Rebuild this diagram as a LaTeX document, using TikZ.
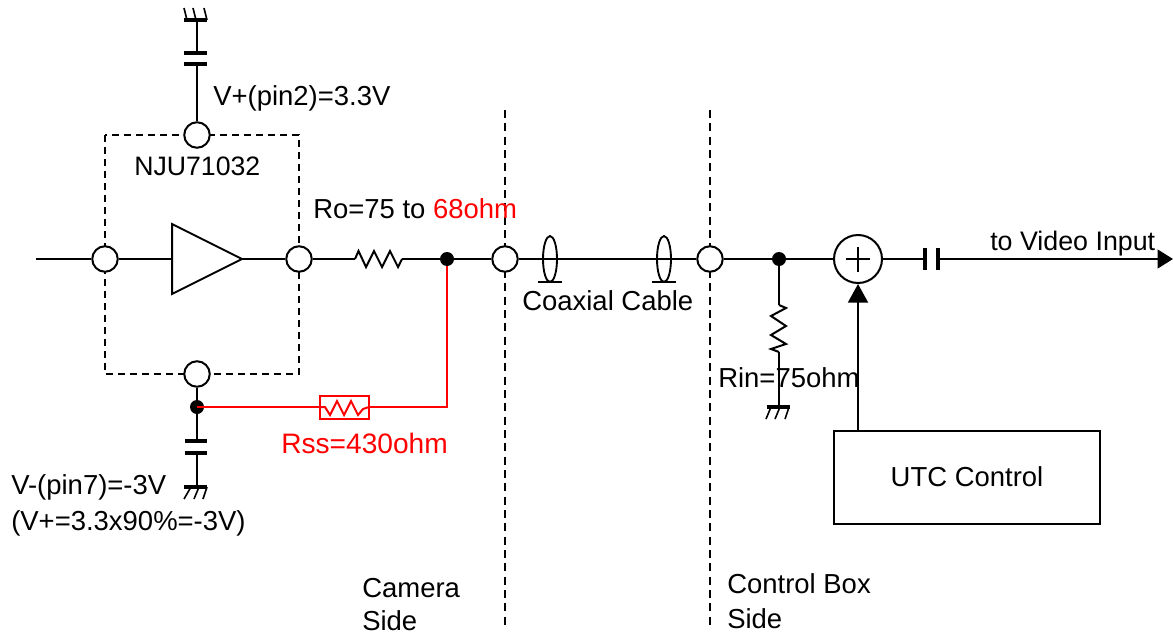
\documentclass[tikz,border=0pt]{standalone}
\usepackage{fontspec}
\setmainfont{Liberation Sans}
\usetikzlibrary{arrows.meta}
\tikzset{
  wire/.style={draw=black,line width=1.5pt},
  redwire/.style={draw=red,line width=1.5pt},
  port/.style={circle,draw=black,fill=white,line width=1.5pt,minimum size=25.5*0.75pt,inner sep=0pt},
  junction/.style={circle,fill=black,minimum size=14*0.75pt,inner sep=0pt},
  plate/.style={draw=black,line width=3pt},
  hatch/.style={draw=black,line width=1.2pt},
  bounds/.style={draw=black,dash pattern=on 5.5pt off 3.5pt,line width=1.4pt},
  sep/.style={draw=black,dash pattern=on 6pt off 4pt,line width=1.4pt},
  lab/.style={anchor=base west,inner sep=0pt,font=\fontsize{20.6pt}{24pt}\selectfont},
  coax/.style={draw=black,line width=1.4pt}
}
\begin{document}
\begin{tikzpicture}[x=0.75pt,y=-0.75pt]
\useasboundingbox (0,0) rectangle (1173,635);
% separators
\coordinate (s1a) at (505,110); \coordinate (s1b) at (505,627);
\coordinate (s2a) at (710,110); \coordinate (s2b) at (710,627);
\draw[sep] (s1a) -- (s1b);
\draw[sep] (s2a) -- (s2b);
% dashed amp boundary
\draw[bounds] (105,135) rectangle (299,374);
% key coordinates
\coordinate (in) at (36,259);
\coordinate (out) at (1173,259);
\coordinate (r1a) at (355,259); \coordinate (r1b) at (402,259);
\coordinate (gt) at (197,20);
\coordinate (c1a) at (197,53); \coordinate (c1b) at (197,64);
\coordinate (c2a) at (197,441); \coordinate (c2b) at (197,453);
\coordinate (gb) at (197,487);
\coordinate (rs1) at (320,407); \coordinate (rs2) at (369,407);
\coordinate (corner) at (447,407);
\coordinate (ra) at (779,305); \coordinate (rb) at (779,352);
\coordinate (gr) at (779,407);
\coordinate (c3a) at (925,259); \coordinate (c3b) at (939,259);
% nodes
\node[port] (p1) at (105,259) {};
\node[port] (p2) at (299,259) {};
\node[port] (pt) at (197,135) {};
\node[port] (pb) at (197,374) {};
\node[port] (p3) at (505,259) {};
\node[port] (p4) at (710,259) {};
\node[junction] (j1) at (447,259) {};
\node[junction] (j2) at (779,259) {};
\node[circle,draw=black,fill=white,line width=1.5pt,minimum size=48*0.75pt,inner sep=0pt] (sum) at (858,259) {};
\node[draw=black,line width=1.5pt,minimum width=266*0.75pt,minimum height=93*0.75pt,inner sep=0pt,font=\fontsize{20.6pt}{24pt}\selectfont] (utc) at (967,477) {UTC Control};
% plus in the summing node
\draw[line width=1.2pt] (846,259) -- (870,259) (858,247) -- (858,272);
% wires
\draw[wire] (in) -- (p1);
\draw[wire] (p1) -- (p2);
\draw[wire] (p2) -- (r1a);
\draw[wire] (r1a) -- (358.5,251) -- (366,267) -- (374,251) -- (382,267) -- (390,251) -- (398,267) -- (r1b);
\draw[wire] (r1b) -- (j1);
\draw[wire] (j1) -- (p3);
\draw[wire] (p3) -- (p4);
\draw[wire] (p4) -- (j2);
\draw[wire] (j2) -- (sum);
\draw[wire] (sum) -- (c3a);
\draw[wire,-{Triangle[length=11.5pt,width=14pt,sep=0pt]}] (c3b) -- (out);
% capacitor on the output
\draw[plate] (925,248) -- (925,270);
\draw[plate] (938,248) -- (938,270);
% amp triangle
\draw[wire,fill=white] (172,224) -- (172,294) -- (242,259) -- cycle;
% top capacitor and ground
\draw[wire] (pt) -- (c1b);
\draw[wire] (c1a) -- (gt);
\draw[plate] (184,53) -- (207,53);
\draw[plate] (184,64) -- (207,64);
\draw[plate] (184,20) -- (207,20);
\draw[hatch] (187,20) -- (184,8) (196,20) -- (193,8) (207,20) -- (204,8);
% bottom capacitor and ground
\draw[wire] (pb) -- (c2a);
\draw[wire] (c2b) -- (gb);
\draw[plate] (185,441) -- (207,441);
\draw[plate] (185,453) -- (207,453);
\draw[plate] (184,487) -- (207,487);
\draw[hatch] (191,487) -- (184,499) (199,487) -- (194,499) (207,487) -- (203,499);
% Rss branch
\node[junction] (j3) at (197,407) {};
\draw[redwire] (j3.center) -- (rs1);
\draw[redwire] (rs2) -- (corner) -- (j1);
\draw[redwire] (320,395.5) rectangle (369,418.5);
\draw[redwire] (rs1) -- ++(5,0) -- ++(5,8) -- ++(7,-14) -- ++(7,14) -- ++(7,-14) -- ++(7,14) -- ++(5,-6) -- (rs2);
% Rin branch
\draw[wire] (j2) -- (ra);
\draw[wire] (ra) -- (786,308) -- (771,316) -- (786,326) -- (771,335) -- (786,344) -- (771,349) -- (rb);
\draw[wire] (rb) -- (gr);
\draw[plate] (767,407) -- (790,407);
\draw[hatch] (771,407) -- (766,419) (780,407) -- (775,419) (789,407) -- (785,419);
% control arrow
\draw[wire,-{Triangle[length=14pt,width=15pt]}] (utc.north -| sum) -- (sum);
% coaxial markers
\draw[coax] (550,259) ellipse (7 and 23);
\draw[coax] (538,282) -- (562,282);
\draw[coax] (664,259) ellipse (7 and 23);
\draw[coax] (652,282) -- (676,282);
% labels
\node[lab] (t1) at (213,105) {V+(pin2)=3.3V};
\node[lab,font=\fontsize{20pt}{24pt}\selectfont] (t2) at (134,175) {NJU71032};
\node[lab] (t3) at (313,218) {Ro=75 to \textcolor{red}{68ohm}};
\node[lab] (t4) at (522,310) {Coaxial Cable};
\node[lab,font=\fontsize{20.1pt}{24pt}\selectfont] (t5) at (990,250) {to Video Input};
\node[lab] (t6) at (718,387) {Rin=75ohm};
\node[lab,text=red,font=\fontsize{21.1pt}{24pt}\selectfont] (t7) at (281,453) {Rss=430ohm};
\node[lab] (t8) at (11,494) {V-(pin7)=-3V};
\node[lab] (t9) at (11,530) {(V+=3.3x90\%=-3V)};
\node[lab] (t10) at (362,597) {Camera};
\node[lab] (t11) at (362,630) {Side};
\node[lab] (t12) at (727,593) {Control Box};
\node[lab] (t13) at (727,628) {Side};
\end{tikzpicture}
\end{document}
